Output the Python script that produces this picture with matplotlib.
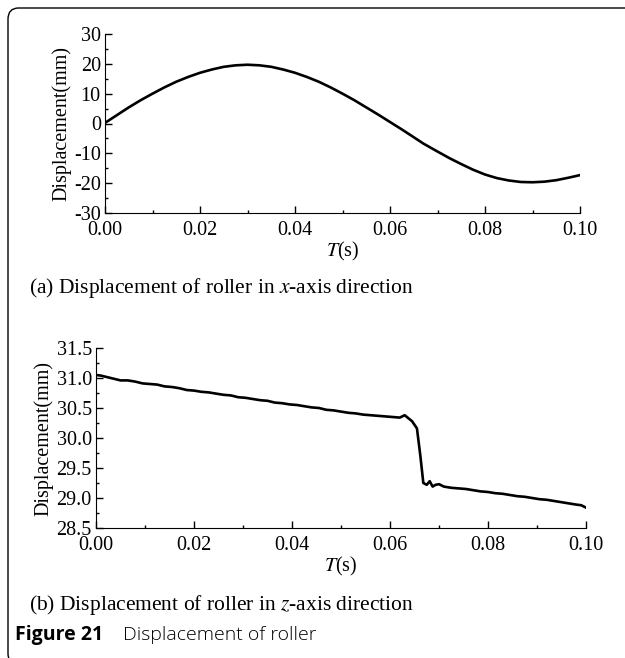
import matplotlib
matplotlib.use("Agg")
import matplotlib.pyplot as plt
from matplotlib.patches import FancyBboxPatch
from matplotlib.ticker import MultipleLocator

# (a) x-axis displacement of the roller
t_x = [0.0000, 0.0025, 0.0050, 0.0075, 0.0100, 0.0125, 0.0150, 0.0175,
       0.0200, 0.0225, 0.0250, 0.0275, 0.0300, 0.0325, 0.0350, 0.0375,
       0.0400, 0.0425, 0.0450, 0.0475, 0.0500, 0.0525, 0.0550, 0.0575,
       0.0600, 0.0625, 0.0650, 0.0670, 0.0700, 0.0725, 0.0750, 0.0775,
       0.0800, 0.0825, 0.0850, 0.0875, 0.0900, 0.0925, 0.0950, 0.0975,
       0.1000]
disp_x = [0.2, 2.8, 5.4, 7.8, 10.0, 12.1, 14.0, 15.6,
          17.0, 18.1, 19.0, 19.5, 19.7, 19.5, 19.0, 18.1,
          17.0, 15.6, 14.0, 12.1, 10.0, 7.8, 5.4, 3.0,
          0.5, -2.0, -4.6, -6.7, -9.4, -11.6, -13.6, -15.5,
          -17.1, -18.3, -19.1, -19.6, -19.7, -19.5, -19.0, -18.2,
          -17.3]

# (b) z-axis displacement of the roller
t_z = [0.0000, 0.0010, 0.0025, 0.0040, 0.0050, 0.0065, 0.0080, 0.0095,
       0.0110, 0.0125, 0.0140, 0.0155, 0.0170, 0.0185, 0.0200, 0.0215,
       0.0230, 0.0245, 0.0260, 0.0275, 0.0290, 0.0305, 0.0320, 0.0335,
       0.0350, 0.0365, 0.0380, 0.0395, 0.0410, 0.0425, 0.0440, 0.0455,
       0.0470, 0.0485, 0.0500, 0.0515, 0.0530, 0.0545, 0.0560, 0.0575,
       0.0590, 0.0605, 0.0620, 0.0630, 0.0645, 0.0655, 0.0662, 0.0668,
       0.0675, 0.0681, 0.0687, 0.0693, 0.0700, 0.0710, 0.0725, 0.0740,
       0.0755, 0.0770, 0.0785, 0.0800, 0.0815, 0.0830, 0.0845, 0.0860,
       0.0875, 0.0890, 0.0905, 0.0920, 0.0935, 0.0950, 0.0965, 0.0980,
       0.0990, 0.1000]
disp_z = [31.05, 31.04, 31.01, 30.98, 30.96, 30.96, 30.94, 30.91,
          30.90, 30.89, 30.86, 30.85, 30.83, 30.80, 30.79, 30.77,
          30.76, 30.74, 30.72, 30.71, 30.68, 30.67, 30.65, 30.63,
          30.62, 30.59, 30.58, 30.56, 30.55, 30.53, 30.51, 30.50,
          30.47, 30.46, 30.44, 30.42, 30.41, 30.39, 30.38, 30.37,
          30.36, 30.35, 30.34, 30.38, 30.28, 30.16, 29.70, 29.25,
          29.22, 29.28, 29.19, 29.22, 29.23, 29.19, 29.17, 29.16,
          29.15, 29.13, 29.11, 29.10, 29.08, 29.07, 29.05, 29.03,
          29.02, 29.00, 28.98, 28.97, 28.95, 28.93, 28.91, 28.89,
          28.88, 28.84]

x_ticks = [0.00, 0.02, 0.04, 0.06, 0.08, 0.10]

plt.rcParams["font.family"] = "Liberation Serif"
plt.rcParams["mathtext.fontset"] = "stix"
plt.rcParams["axes.unicode_minus"] = False

W, H = 625, 658
fig = plt.figure(figsize=(W / 100, H / 100), dpi=100)

# rounded frame, only top and left edges visible
frame = FancyBboxPatch((8 / W, -0.01), 1.5, 1 - 8 / H + 0.01,
                       boxstyle="round,pad=0,rounding_size=0.017",
                       transform=fig.transFigure, fill=False,
                       edgecolor="black", linewidth=1.0)
fig.patches.append(frame)


def style_axes(ax, ylim, ymajor, yminor, yfmt):
    ax.set_xlim(0, 0.1)
    ax.set_ylim(*ylim)
    ax.set_xticks(x_ticks)
    ax.set_xticklabels(["%.2f" % v for v in x_ticks])
    ax.xaxis.set_minor_locator(MultipleLocator(0.01))
    ax.yaxis.set_major_locator(MultipleLocator(ymajor))
    ax.yaxis.set_minor_locator(MultipleLocator(yminor))
    ax.yaxis.set_major_formatter(plt.FormatStrFormatter(yfmt))
    ax.spines["top"].set_visible(False)
    ax.spines["right"].set_visible(False)
    ax.tick_params(which="both", direction="in", labelsize=14.5, width=1)
    ax.tick_params(which="major", length=5, pad=3)
    ax.tick_params(axis="x", which="major", pad=6)
    ax.tick_params(which="minor", length=2.5)
    ax.set_xlabel("$T$(s)", fontsize=14.5, labelpad=0)
    ax.set_ylabel("Displacement(mm)", fontsize=14.5, labelpad=2)


ax1 = fig.add_axes([105 / W, 1 - 213 / H, 475 / W, 179 / H])
ax1.plot(t_x, disp_x, color="black", linewidth=1.9)
style_axes(ax1, (-30, 30), 10, 5, "%d")

ax2 = fig.add_axes([96 / W, 1 - 528 / H, 490 / W, 180 / H])
ax2.plot(t_z, disp_z, color="black", linewidth=1.9)
style_axes(ax2, (28.5, 31.5), 0.5, 0.25, "%.1f")

fig.text(29 / W, 1 - 288 / H, "(a) Displacement of roller in $x$-axis direction",
         fontsize=15.5, va="center")
fig.text(29 / W, 1 - 605 / H, "(b) Displacement of roller in $z$-axis direction",
         fontsize=15.5, va="center")
fig.text(15 / W, 1 - 635 / H, "Figure 21", fontsize=14, fontweight="bold",
         family="Open Sans", va="center")
fig.text(123 / W, 1 - 635 / H, "Displacement of roller", fontsize=14,
         family="Open Sans", fontweight="light", va="center")

fig.savefig("out.png", dpi=100)
